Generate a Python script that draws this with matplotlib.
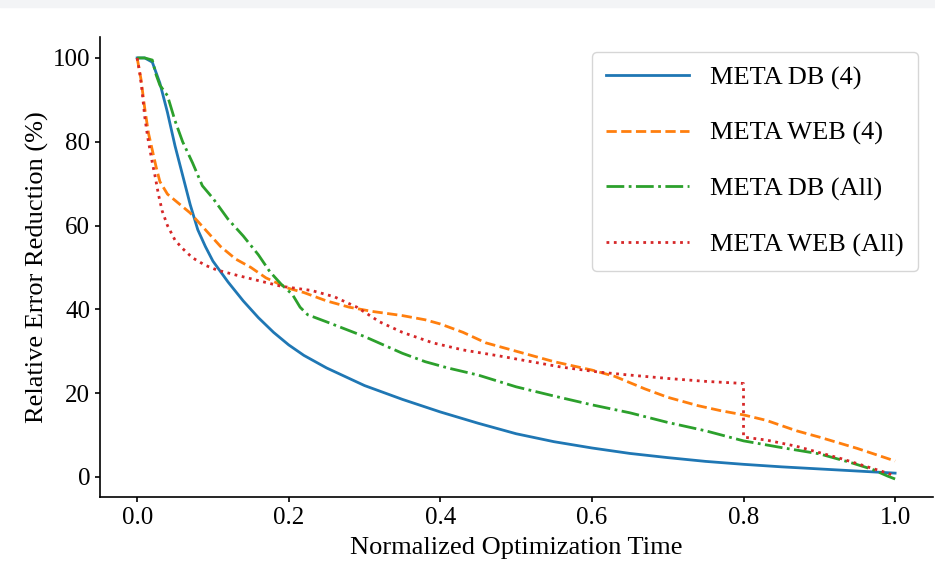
import numpy as np
import matplotlib.pyplot as plt
from matplotlib.patches import Rectangle

plt.rcParams['font.family'] = ['Liberation Serif', 'DejaVu Serif']

# ---------------------------------------------------------------- data
db4_x = [0.0, 0.01, 0.02, 0.03, 0.04, 0.05, 0.06, 0.07, 0.08, 0.09, 0.10, 0.12, 0.14,
         0.16, 0.18, 0.20, 0.22, 0.25, 0.30, 0.35, 0.40, 0.45, 0.50, 0.55, 0.60, 0.65,
         0.70, 0.75, 0.80, 0.85, 0.90, 0.95, 1.0]
db4_y = [100, 100, 99, 94, 87, 79, 72, 65, 59, 55, 51.5, 46.5, 42,
         38, 34.5, 31.5, 29, 26, 21.8, 18.5, 15.5, 12.8, 10.3, 8.4, 6.9, 5.6,
         4.6, 3.7, 3.0, 2.4, 1.9, 1.4, 0.9]

web4_x = [0.0, 0.005, 0.01, 0.015, 0.02, 0.025, 0.03, 0.04, 0.05, 0.07, 0.09, 0.11, 0.13,
          0.15, 0.17, 0.20, 0.22, 0.25, 0.28, 0.31, 0.35, 0.38, 0.40, 0.43, 0.46, 0.50,
          0.55, 0.60, 0.63, 0.67, 0.70, 0.74, 0.77, 0.80, 0.83, 0.87, 0.90, 0.95, 1.0]
web4_y = [100, 95, 88, 82, 78, 74, 70.5, 67.5, 66, 63, 59, 55, 52,
          50, 47.5, 45, 44, 42, 40.5, 39.5, 38.5, 37.5, 36.5, 34.5, 32, 30,
          27.5, 25.5, 24, 21, 19, 17, 15.8, 14.8, 13.5, 11, 9.5, 6.8, 3.8]

dball_x = [0.0, 0.01, 0.02, 0.025, 0.03, 0.04, 0.05, 0.06, 0.073, 0.086, 0.10, 0.12, 0.14,
           0.16, 0.175, 0.19, 0.205, 0.215, 0.225, 0.25, 0.30, 0.35, 0.38, 0.41, 0.45,
           0.50, 0.55, 0.60, 0.65, 0.70, 0.75, 0.80, 0.85, 0.90, 0.94, 0.97, 0.99, 1.0]
dball_y = [100, 100, 99.5, 96, 93.5, 91, 85, 80, 75, 69.5, 66.5, 61.5, 57.5,
           53, 49, 46, 43.5, 40.5, 38.7, 37, 33.5, 29.5, 27.5, 26, 24.3,
           21.5, 19.3, 17.2, 15.3, 13, 11, 8.6, 7, 5.5, 3.5, 1.8, 0.2, -0.5]

weball_x = [0.0, 0.003, 0.006, 0.01, 0.014, 0.017, 0.02, 0.024, 0.028, 0.033, 0.04, 0.05,
            0.06, 0.073, 0.09, 0.105, 0.13, 0.15, 0.19, 0.23, 0.26, 0.29, 0.32, 0.35,
            0.39, 0.43, 0.48, 0.52, 0.56, 0.61, 0.65, 0.70, 0.75, 0.80, 0.80, 0.83,
            0.87, 0.90, 0.93, 0.96, 0.99, 1.0]
weball_y = [100, 97, 93, 86, 81, 78, 75, 71.5, 67.5, 63.5, 60, 56.5,
            54.5, 52.3, 50.5, 49.4, 48.2, 47.3, 45.5, 44.5, 43, 40.5, 37, 34.5,
            32, 30.3, 28.8, 27.5, 26.2, 25, 24.3, 23.5, 22.8, 22.3, 9.5, 8.8,
            7.3, 5.8, 4.3, 2.6, 0.9, 0.2]

labels = ['META DB (4)', 'META WEB (4)', 'META DB (All)', 'META WEB (All)']

# ---------------------------------------------------------------- figure
fig = plt.figure(figsize=(9.35, 5.61), dpi=100)
fig.patches.append(Rectangle((0, 1 - 7 / 561), 1, 7 / 561, transform=fig.transFigure,
                             color='#f3f4f6', zorder=0))
ax = fig.add_axes([100 / 935, 1 - 497 / 561, 833 / 935, 460 / 561])

lw = 2.0
ax.plot(db4_x, db4_y, '-', color='#1f77b4', lw=lw, label=labels[0])
ax.plot(web4_x, web4_y, '--', color='#ff7f0e', lw=lw, label=labels[1])
ax.plot(dball_x, dball_y, '-.', color='#2ca02c', lw=lw, label=labels[2])
ax.plot(weball_x, weball_y, ':', color='#d62728', lw=lw, label=labels[3])

ax.set_xlim(-0.049, 1.05)
ax.set_ylim(-4.8, 105)
ax.set_xticks(np.arange(0, 1.01, 0.2))
ax.set_yticks(np.arange(0, 101, 20))

ax.spines['top'].set_visible(False)
ax.spines['right'].set_visible(False)
for s in ['left', 'bottom']:
    ax.spines[s].set_linewidth(1.2)
ax.tick_params(labelsize=18, width=1.2)

ax.set_xlabel('Normalized Optimization Time', fontsize=19, labelpad=6)
ax.set_ylabel('Relative Error Reduction (%)', fontsize=19, labelpad=3)

ax.legend(loc='upper right', fontsize=19, handlelength=3.15, labelspacing=1.2,
          borderaxespad=0.55, borderpad=0.55, handletextpad=0.8)

fig.savefig('out.png', dpi=100)
